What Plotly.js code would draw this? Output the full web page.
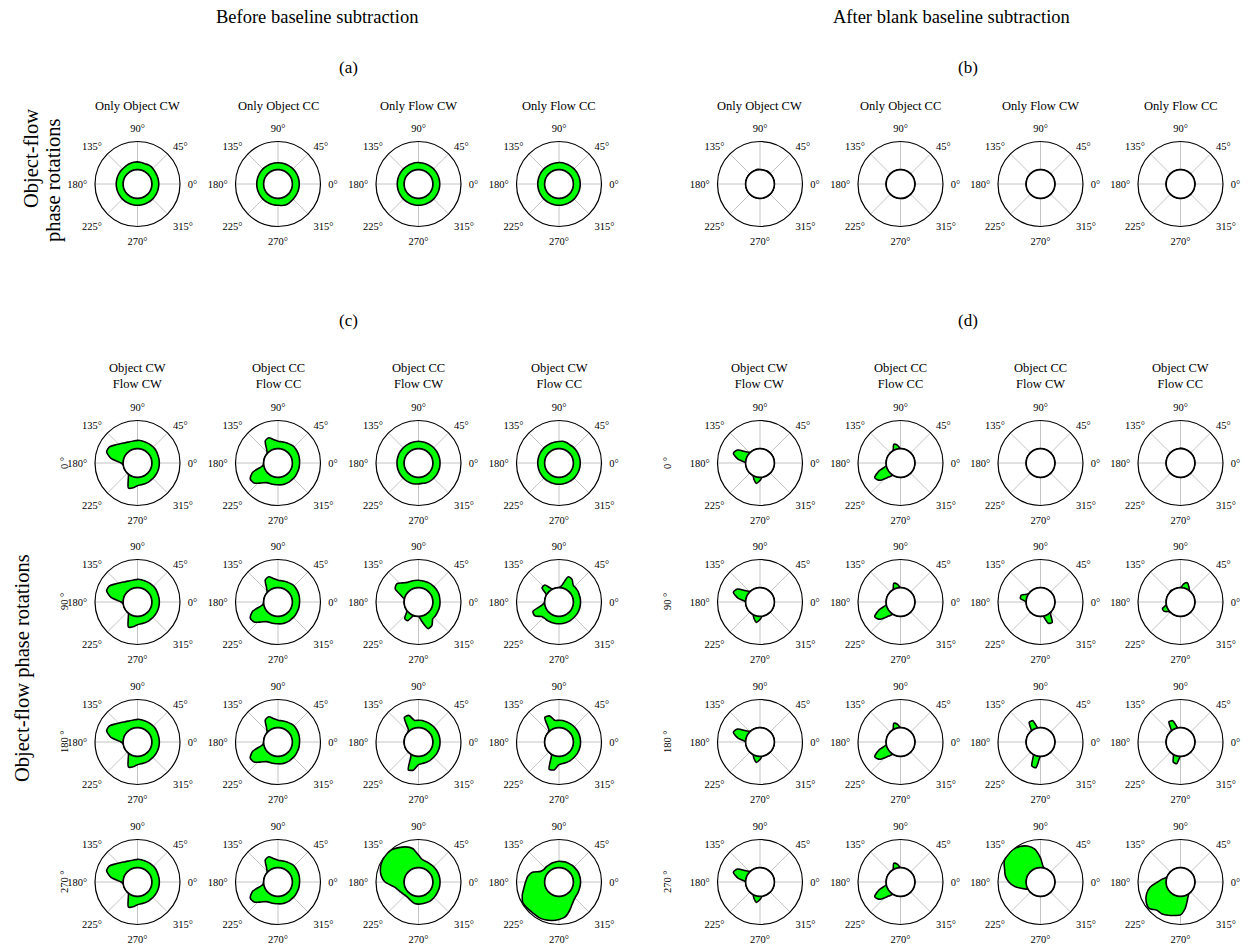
<!DOCTYPE html>
<html><head><meta charset="utf-8">
<script src="https://cdn.plot.ly/plotly-3.0.1.min.js"></script>
<style>html,body{margin:0;padding:0;background:#fff}#chart{width:1248px;height:947px}</style>
</head><body><div id="chart"></div>
<script>
// ---------- labels ----------
const thetaDeg = [0,10,20,30,40,50,60,70,80,90,100,110,120,130,140,150,160,170,180,190,200,210,220,230,240,250,260,270,280,290,300,310,320,330,340,350];
const angTickVals = [0,45,90,135,180,225,270,315];
const angTickText = ['0°','45°','90°','135°','180°','225°','270°','315°'];
const panelTitles = ['Before baseline subtraction','After blank baseline subtraction'];
const panelLetters = ['(a)','(b)','(c)','(d)'];
const singleTitles = ['Only Object CW','Only Object CC','Only Flow CW','Only Flow CC'];
const comboTitles = ['Object CW<br>Flow CW','Object CC<br>Flow CC','Object CC<br>Flow CW','Object CW<br>Flow CC'];
const rowLabels = ['0 °','90 °','180 °','270 °'];
const sideLabelTop = ['Object-flow','phase rotations'];
const sideLabelBottom = 'Object-flow phase rotations';

// ---------- values (radial extent beyond the inner circle, one per 10°) ----------
// (a) before baseline subtraction, single rotations
const aObjCW  = [0.25,0.25,0.25,0.25,0.26,0.28,0.28,0.26,0.27,0.28,0.28,0.27,0.26,0.25,0.25,0.25,0.25,0.25,0.25,0.25,0.25,0.25,0.25,0.25,0.25,0.25,0.25,0.25,0.25,0.25,0.25,0.25,0.25,0.25,0.25,0.25];
const aObjCC  = [0.25,0.25,0.25,0.25,0.25,0.25,0.25,0.25,0.25,0.25,0.25,0.25,0.25,0.25,0.25,0.25,0.25,0.25,0.25,0.25,0.25,0.25,0.25,0.25,0.25,0.25,0.25,0.25,0.27,0.29,0.28,0.26,0.25,0.25,0.25,0.25];
const aFlowCW = [0.25,0.25,0.25,0.25,0.25,0.25,0.25,0.25,0.25,0.26,0.26,0.25,0.25,0.25,0.25,0.25,0.25,0.25,0.25,0.25,0.25,0.25,0.25,0.25,0.25,0.25,0.25,0.25,0.25,0.25,0.25,0.25,0.25,0.25,0.25,0.25];
const aFlowCC = [0.25,0.25,0.25,0.25,0.25,0.25,0.25,0.25,0.26,0.26,0.25,0.25,0.25,0.25,0.25,0.25,0.25,0.25,0.25,0.25,0.25,0.25,0.25,0.25,0.25,0.25,0.25,0.25,0.25,0.25,0.25,0.25,0.25,0.25,0.25,0.25];
// (b) after blank baseline subtraction, single rotations
const bObjCW  = [0,0,0,0,0,0.02,0.02,0,0,0,0.03,0,0,0,0,0,0,0,0,0,0,0,0,0,0,0,0,0,0,0,0,0,0,0,0,0];
const bObjCC  = [0,0,0,0,0,0,0,0,0,0,0,0,0,0,0,0,0,0,0,0,0,0,0,0,0,0,0,0,0.02,0.02,0,0,0,0,0,0];
const bFlowCW = [0,0,0,0,0,0,0,0,0,0,0,0,0,0,0,0,0,0,0,0,0,0,0,0,0,0,0,0,0,0,0,0,0,0,0,0];
const bFlowCC = [0,0,0,0,0,0,0,0,0,0,0,0,0,0,0,0,0,0,0,0,0,0,0,0,0,0,0,0,0,0,0,0,0,0,0,0];
// (c) before subtraction, combined rotations
const cCWCW = [0.27,0.27,0.27,0.28,0.29,0.29,0.29,0.29,0.30,0.30,0.29,0.30,0.33,0.40,0.50,0.64,0.66,0.45,0.08,0,0,0,0,0,0.15,0.44,0.39,0.30,0.28,0.28,0.28,0.27,0.27,0.27,0.27,0.27];
const cCCCC = [0.26,0.27,0.28,0.29,0.30,0.30,0.28,0.27,0.26,0.27,0.33,0.45,0.40,0.12,0,0,0,0,0,0.05,0.45,0.63,0.60,0.42,0.30,0.28,0.27,0.27,0.28,0.28,0.28,0.27,0.27,0.26,0.26,0.26];
const cCCCW_0   = [0.26,0.26,0.26,0.26,0.26,0.26,0.26,0.26,0.26,0.27,0.26,0.26,0.26,0.26,0.26,0.26,0.26,0.26,0.26,0.26,0.26,0.26,0.26,0.26,0.26,0.26,0.25,0.24,0.23,0.25,0.26,0.26,0.26,0.26,0.26,0.26];
const cCCCW_90  = [0.26,0.26,0.27,0.27,0.27,0.27,0.27,0.26,0.26,0.27,0.27,0.28,0.30,0.38,0.50,0.45,0.15,0,0,0,0,0,0.04,0.26,0.26,0.02,0,0,0.20,0.50,0.45,0.28,0.27,0.26,0.26,0.26];
const cCCCW_180 = [0.26,0.26,0.26,0.26,0.26,0.26,0.26,0.26,0.27,0.27,0.27,0.50,0.50,0.05,0,0,0,0,0,0,0,0,0,0,0.03,0.55,0.50,0.30,0.27,0.27,0.27,0.26,0.26,0.26,0.26,0.26];
const cCCCW_270 = [0.26,0.26,0.26,0.26,0.26,0.26,0.26,0.27,0.30,0.45,0.70,0.82,0.90,0.98,1.00,0.98,0.93,0.84,0.68,0.40,0.28,0.22,0.18,0.16,0.18,0.22,0.27,0.28,0.28,0.28,0.29,0.28,0.27,0.26,0.26,0.26];
const cCWCC_0   = [0.25,0.25,0.25,0.25,0.25,0.25,0.25,0.27,0.28,0.26,0.25,0.25,0.25,0.25,0.25,0.25,0.25,0.25,0.25,0.25,0.25,0.25,0.25,0.25,0.25,0.25,0.25,0.25,0.25,0.25,0.25,0.25,0.25,0.25,0.25,0.25];
const cCWCC_90  = [0.26,0.26,0.26,0.27,0.27,0.28,0.42,0.45,0.10,0,0,0,0.05,0.28,0.28,0.02,0,0,0,0.10,0.48,0.48,0.30,0.27,0.27,0.27,0.27,0.27,0.27,0.27,0.27,0.26,0.26,0.26,0.26,0.26];
const cCWCC_180 = [0.26,0.26,0.26,0.26,0.26,0.26,0.26,0.26,0.27,0.27,0.27,0.48,0.50,0.05,0,0,0,0,0,0,0,0,0,0,0.03,0.52,0.50,0.30,0.27,0.27,0.27,0.26,0.26,0.26,0.26,0.26];
const cCWCC_270 = [0.26,0.26,0.26,0.26,0.25,0.25,0.24,0.24,0.23,0.23,0.22,0.21,0.20,0.20,0.19,0.25,0.50,0.62,0.68,0.76,0.88,0.97,0.95,0.93,0.94,0.92,0.88,0.82,0.75,0.58,0.42,0.32,0.28,0.27,0.26,0.26];
// (d) after subtraction, combined rotations
const dCWCW = [0,0,0,0,0,0,0,0,0,0,0,0,0,0,0.10,0.42,0.50,0.29,0,0,0,0,0,0,0,0.12,0.23,0.12,0,0,0,0,0,0,0,0];
const dCCCC = [0,0,0,0,0,0,0,0,0,0,0.14,0.20,0.02,0,0,0,0,0,0,0,0.30,0.55,0.45,0.15,0,0,0,0,0,0,0,0,0,0,0,0];
const dCCCW_0   = [0,0,0,0,0,0,0,0,0,0,0,0,0,0,0,0,0,0,0,0,0,0,0,0,0,0,0,0,0,0,0,0,0,0,0,0];
const dCCCW_90  = [0,0,0,0,0,0,0,0,0,0,0,0,0,0,0,0.05,0.22,0.22,0,0,0,0,0,0,0,0,0,0,0,0.30,0.33,0.05,0,0,0,0];
const dCCCW_180 = [0,0,0,0,0,0,0,0,0,0,0,0.30,0.30,0,0,0,0,0,0,0,0,0,0,0,0,0.40,0.42,0,0,0,0,0,0,0,0,0];
const dCCCW_270 = [0,0,0,0,0,0,0,0,0.05,0.35,0.68,0.85,0.95,1.00,1.00,0.98,0.85,0.76,0.62,0.42,0.18,0.02,0,0,0,0,0,0,0,0,0,0,0,0,0,0];
const dCWCC_0   = [0,0,0,0,0,0,0,0,0.02,0.02,0,0,0,0,0,0,0,0,0,0,0,0,0,0,0,0,0,0,0,0,0,0,0,0,0,0];
const dCWCC_90  = [0,0,0,0,0,0,0.10,0.22,0.15,0,0,0,0,0.03,0,0,0,0,0,0,0.18,0.16,0.03,0,0,0,0,0,0,0,0,0,0,0,0,0];
const dCWCC_180 = [0,0,0,0,0,0,0,0,0,0,0,0.30,0.32,0,0,0,0,0,0,0,0,0,0,0,0,0.25,0.28,0,0,0,0,0,0,0,0,0];
const dCWCC_270 = [0,0,0,0,0,0,0,0,0,0,0,0,0,0,0,0,0,0.14,0.31,0.60,0.78,0.90,0.95,0.80,0.80,0.75,0.70,0.66,0.45,0.20,0.05,0,0,0,0,0];

// ---------- grid of subplots ----------
const W = 1248, H = 947, R = 42.5;
const colsLeft = [137.5, 278, 418.5, 559];
const colsRight = [760, 900.5, 1040.5, 1180.5];
const topRowY = 184;
const rowsY = [463, 602, 742, 882];

const panels = [];
[aObjCW, aObjCC, aFlowCW, aFlowCC].forEach((v, i) => panels.push({v, cx: colsLeft[i], cy: topRowY}));
[bObjCW, bObjCC, bFlowCW, bFlowCC].forEach((v, i) => panels.push({v, cx: colsRight[i], cy: topRowY}));
const cRows = [
  [cCWCW, cCCCC, cCCCW_0, cCWCC_0],
  [cCWCW, cCCCC, cCCCW_90, cCWCC_90],
  [cCWCW, cCCCC, cCCCW_180, cCWCC_180],
  [cCWCW, cCCCC, cCCCW_270, cCWCC_270]
];
const dRows = [
  [dCWCW, dCCCC, dCCCW_0, dCWCC_0],
  [dCWCW, dCCCC, dCCCW_90, dCWCC_90],
  [dCWCW, dCCCC, dCCCW_180, dCWCC_180],
  [dCWCW, dCCCC, dCCCW_270, dCWCC_270]
];
cRows.forEach((row, r) => row.forEach((v, i) => panels.push({v, cx: colsLeft[i], cy: rowsY[r]})));
dRows.forEach((row, r) => row.forEach((v, i) => panels.push({v, cx: colsRight[i], cy: rowsY[r]})));

const circTheta = [];
for (let t = 0; t <= 360; t += 3) circTheta.push(t);

const FONT = 'Liberation Serif, Times New Roman, serif';
const traces = [];
const layout = {
  width: W, height: H,
  margin: {l: 0, r: 0, t: 0, b: 0},
  paper_bgcolor: '#fff',
  showlegend: false,
  font: {family: FONT, color: '#000'},
  annotations: []
};

panels.forEach((p, k) => {
  const id = 'polar' + (k === 0 ? '' : (k + 1));
  layout[id] = {
    domain: {x: [(p.cx - R) / W, (p.cx + R) / W], y: [1 - (p.cy + R) / H, 1 - (p.cy - R) / H]},
    hole: 1 / 3,
    bgcolor: 'rgba(0,0,0,0)',
    radialaxis: {visible: false, range: [0, 1]},
    angularaxis: {
      rotation: 0, direction: 'counterclockwise',
      tickmode: 'array', tickvals: angTickVals, ticktext: angTickText,
      ticks: 'outside', ticklen: 5, tickcolor: 'rgba(0,0,0,0)',
      showline: true, linecolor: '#000', linewidth: 1.2,
      showgrid: true, gridcolor: '#c4c4c4', gridwidth: 1,
      tickfont: {family: FONT, size: 10.5, color: '#000'}
    }
  };
  traces.push({
    type: 'scatterpolar', subplot: id,
    r: p.v.concat([p.v[0]]), theta: thetaDeg.concat([360]),
    mode: 'lines', fill: 'toself', fillcolor: '#00ff00',
    line: {color: '#000', width: 1.6, shape: 'spline', smoothing: 0.7},
    cliponaxis: true, hoverinfo: 'skip'
  });
  traces.push({
    type: 'scatterpolar', subplot: id,
    r: circTheta.map(() => 0.012), theta: circTheta,
    mode: 'lines', line: {color: '#000', width: 1.4},
    cliponaxis: true, hoverinfo: 'skip'
  });
});

function ann(text, px, py, size, angle) {
  layout.annotations.push({
    text, x: px / W, y: 1 - py / H, xref: 'paper', yref: 'paper',
    xanchor: 'center', yanchor: 'middle', showarrow: false,
    textangle: angle || 0, font: {family: FONT, size, color: '#000'}
  });
}
ann(panelTitles[0], 317, 17, 18.5);
ann(panelTitles[1], 951, 17, 18.5);
ann(panelLetters[0], 348, 68, 17);
ann(panelLetters[1], 968, 68, 17);
ann(panelLetters[2], 348, 320, 17);
ann(panelLetters[3], 968, 320, 17);
singleTitles.forEach((t, i) => { ann(t, colsLeft[i], 105.5, 12.5); ann(t, colsRight[i], 105.5, 12.5); });
comboTitles.forEach((t, i) => { ann(t, colsLeft[i], 376.5, 12.5); ann(t, colsRight[i], 376.5, 12.5); });
rowLabels.forEach((t, r) => { ann(t, 64, rowsY[r], 10.5, -90); ann(t, 667, rowsY[r], 10.5, -90); });
ann(sideLabelTop[0], 31, 158, 20.5, -90);
ann(sideLabelTop[1], 54, 180, 20.5, -90);
ann(sideLabelBottom, 22, 668, 20.5, -90);

Plotly.newPlot('chart', traces, layout, {staticPlot: true, displayModeBar: false});
</script></body></html>
